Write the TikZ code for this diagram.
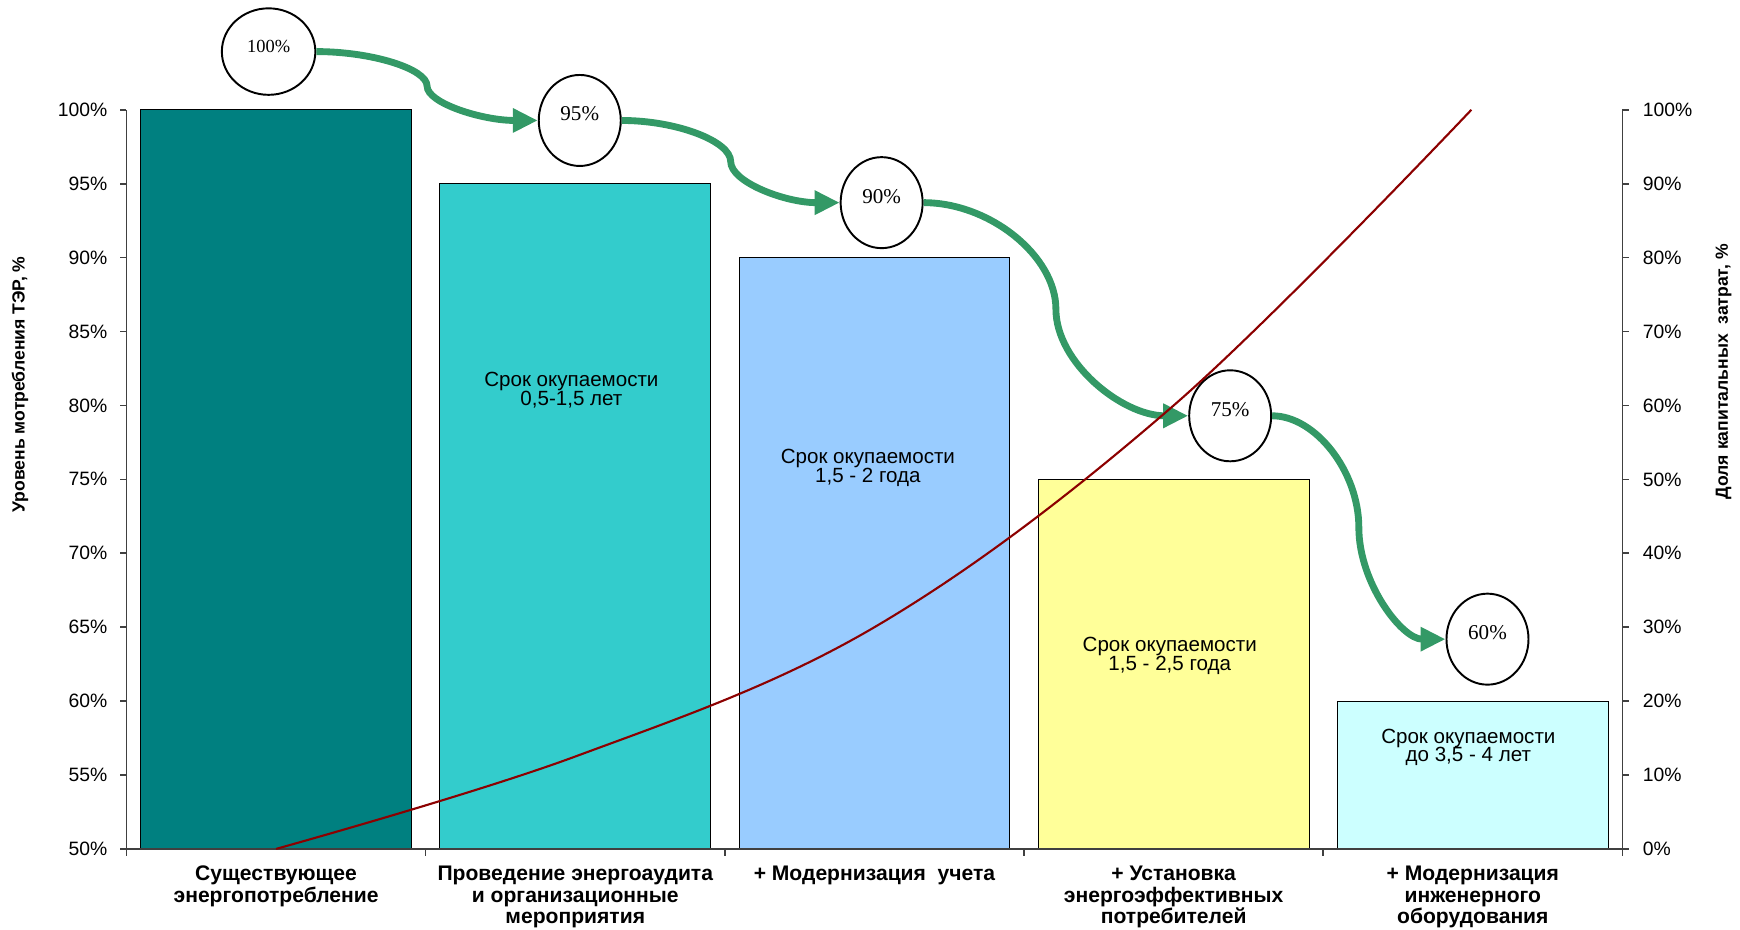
\documentclass[tikz,border=0pt]{standalone}
\usepackage{fontspec}
\setmainfont{Liberation Sans}
\newfontfamily\pctfont{Liberation Serif}
\usetikzlibrary{arrows.meta,calc,shapes.geometric}
\definecolor{barA}{RGB}{0,128,128}
\definecolor{barB}{RGB}{51,204,204}
\definecolor{barC}{RGB}{153,204,255}
\definecolor{barD}{RGB}{255,255,153}
\definecolor{barE}{RGB}{204,255,255}
\definecolor{flowgreen}{RGB}{51,153,102}
\definecolor{costred}{RGB}{140,0,0}
\newcommand\tightlines{\lineskiplimit=-100pt\relax}
\newcommand\flowarrow[2]{
  \path (#1.east) coordinate (p0) (#2.west) coordinate (p4)
    ($(p0)!0.25!(p4)$) coordinate (q1)
    ($(p0)!0.5!(p4)$) coordinate (q2)
    ($(p0)!0.75!(p4)$) coordinate (q3);
  \draw[flow] (p0) .. controls (q1 |- p0) and (q2 |- q1) .. (q2)
    .. controls (q2 |- q3) and (q3 |- p4) .. (p4);
}

\begin{document}
\begin{tikzpicture}[x=5.9835cm, y=0.29563cm,
  oval/.style = {draw, ellipse, fill=white, line width=1.1pt, minimum width=1.64cm, minimum height=1.82cm, inner sep=0pt, font=\pctfont\fontsize{12}{12}\selectfont, text height=8pt, text depth=7.5pt},
  bar/.style = {draw=black, line width=0.6pt},
  note/.style = {align=center, inner sep=0pt, font=\fontsize{11.7}{10.5}\selectfont\tightlines},
  cat/.style = {anchor=north, align=center, inner sep=0pt, font=\bfseries\fontsize{12}{12.3}\selectfont\tightlines},
  axis/.style = {draw=black!75, line width=0.9pt},
  flow/.style = {draw=flowgreen, line width=3.9pt, -{Triangle[length=5mm, width=4.6mm]}}]
	\useasboundingbox (-0.4228,-5.480) rectangle (5.3930,57.43);
	% bars
	\draw[bar, fill=barA] (0.0475,0) rectangle (0.9525,50);
	\draw[bar, fill=barB] (1.0475,0) rectangle (1.9525,45);
	\draw[bar, fill=barC] (2.0475,0) rectangle (2.9525,40);
	\draw[bar, fill=barD] (3.0475,0) rectangle (3.9525,25);
	\draw[bar, fill=barE] (4.0475,0) rectangle (4.9525,10);
	% axes
	\draw[axis] (0,0) -- (0,50);
	\draw[axis] (5,0) -- (5,50);
	\draw[axis] (0,0) -- (5,0);
	\foreach \i in {0,...,5}
		\draw[axis] (\i,0) -- ++(0,-0.15cm);
	\foreach \p [count=\k from 0] in {50,55,...,100} {
		\draw[axis] (0,\k*5) -- ++(-0.133cm,0);
		\node[anchor=east, inner sep=0pt, font=\fontsize{11}{11}\selectfont] (l\p) at ([xshift=-0.377cm]0,\k*5) {\p\%};
	}
	\foreach \p [count=\k from 0] in {0,10,...,100} {
		\draw[axis] (5,\k*5) -- ++(0.133cm,0);
		\node[anchor=west, inner sep=0pt, font=\fontsize{11}{11}\selectfont] (r\p) at ([xshift=0.4cm]5,\k*5) {\p\%};
	}
	\node[rotate=90, font=\bfseries\fontsize{10}{12}\selectfont] (ytitle) at (-0.356,31.42) {Уровень мотребления ТЭР, \%};
	\node[rotate=90, font=\bfseries\fontsize{10}{12}\selectfont] (ztitle) at (5.338,32.28) {Доля капитальных\ \ затрат, \%};
	% categories
	\node[cat] (c1) at (0.5,-1.126) {Существующее\\энергопотребление};
	\node[cat] (c2) at (1.5,-1.126) {Проведение энергоаудита\\и организационные\\мероприятия};
	\node[cat] (c3) at (2.5,-1.126) {+ Модернизация\ \ учета};
	\node[cat] (c4) at (3.5,-1.126) {+ Установка\\энергоэффективных\\потребителей};
	\node[cat] (c5) at (4.5,-1.126) {+ Модернизация\\инженерного\\оборудования};
	% payback notes
	\node[note] (t2) at (1.487,31.04) {Срок окупаемости\\0,5-1,5 лет};
	\node[note] (t3) at (2.478,25.79) {Срок окупаемости\\1,5 - 2 года};
	\node[note] (t4) at (3.487,13.06) {Срок окупаемости\\1,5 - 2,5 года};
	\node[note] (t5) at (4.485,6.87) {Срок окупаемости\\до 3,5 - 4 лет};
	% levels
	\node[oval, minimum width=1.87cm, minimum height=1.73cm, font=\pctfont\fontsize{10.5}{10.5}\selectfont] (e100) at (0.475,53.94) {100\%};
	\node[oval] (e95) at (1.515,49.28) {95\%};
	\node[oval] (e90) at (2.524,43.72) {90\%};
	\node[oval] (e75) at (3.689,29.30) {75\%};
	\node[oval] (e60) at (4.549,14.19) {60\%};
	\flowarrow{e100}{e95}
	\flowarrow{e95}{e90}
	\flowarrow{e90}{e75}
	\flowarrow{e75}{e60}
	% capital costs
	\draw[costred, line width=1.2pt] plot[smooth, tension=0.6] coordinates {(0.5,0) (1.5,6.25) (2.5,15) (3.5,30) (4.495,50)};
\end{tikzpicture}
\end{document}
